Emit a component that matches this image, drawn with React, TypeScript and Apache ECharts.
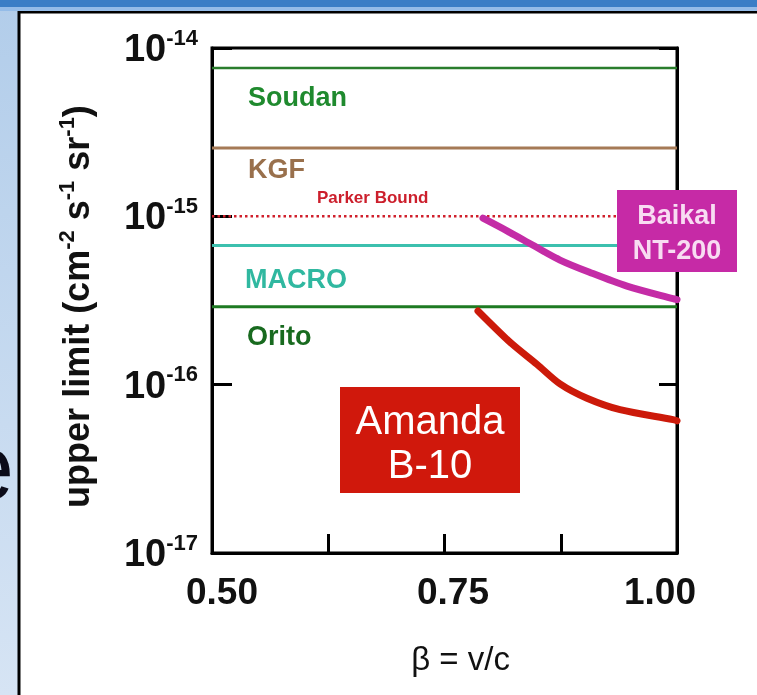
import React, { useEffect, useRef } from 'react';
import * as echarts from 'echarts';

const FONT = '"Liberation Sans", Arial, Helvetica, sans-serif';

// Horizontal flux limits (cm^-2 s^-1 sr^-1)
const limitNames = ['Soudan', 'KGF', 'Parker Bound', 'MACRO', 'Orito'];
const limitValues = [7.6e-15, 2.55e-15, 1e-15, 6.7e-16, 2.9e-16];
const limitColors = ['#2a7d2c', '#a57a56', '#d0202c', '#3cc0ae', '#1d7a22'];
const limitTextColors = ['#1f8a2e', '#99704c', '#cc1f2c', '#30b8a0', '#186a1f'];

// Baikal NT-200 curve
const baikalBeta = [0.7914, 0.8172, 0.8452, 0.8742, 0.9065, 0.9462, 0.9957, 1.0];
const baikalFlux = [9.75e-16, 8.2e-16, 6.73e-16, 5.5e-16, 4.64e-16, 3.85e-16, 3.24e-16, 3.2e-16];

// AMANDA B-10 curve
const amandaBeta = [0.786, 0.8204, 0.8495, 0.8742, 0.9032, 0.9387, 0.9957, 1.0];
const amandaFlux = [2.74e-16, 1.79e-16, 1.32e-16, 1.01e-16, 8.3e-17, 7.1e-17, 6.2e-17, 6.1e-17];

const xTickLabels = ['0.50', '0.75', '1.00'];
const xTickValues = [0.5, 0.75, 1.0];

export default function App() {
  const ref = useRef<HTMLDivElement>(null);

  useEffect(() => {
    if (!ref.current) return;
    const chart = echarts.init(ref.current, undefined, { renderer: 'svg' });

    const labelOffsets: [number, number][] = [
      [36, 29],
      [36, 21],
      [105, -18.5],
      [33, 33],
      [35, 29],
    ];

    const limitSeries = limitValues.map((v, i) => ({
      type: 'line',
      name: limitNames[i],
      data: [
        [0.5, v],
        [1.0, v],
      ],
      symbol: 'none',
      z: 2,
      lineStyle: {
        color: limitColors[i],
        width: i === 0 ? 2.5 : i === 2 ? 2.5 : 3,
        type: i === 2 ? [2.5, 3] : 'solid',
      },
    }));

    const labelSeries = {
      type: 'scatter',
      symbolSize: 0,
      clip: false,
      silent: true,
      z: 5,
      itemStyle: { opacity: 1 },
      emphasis: { disabled: true },
      data: limitValues.map((v, i) => ({
        value: [0.5, v],
        label: {
          show: true,
          position: 'right',
          distance: 0,
          offset: labelOffsets[i],
          formatter: limitNames[i],
          color: limitTextColors[i],
          opacity: 1,
          fontFamily: FONT,
          fontWeight: 'bold',
          fontSize: i === 2 ? 17 : 27,
        },
      })),
    };

    const xLabelKeys = ['a', 'b', 'c'];

    chart.setOption({
      animation: false,
      backgroundColor: 'transparent',
      grid: {
        left: 212,
        right: 80,
        top: 48,
        bottom: 142,
        show: true,
        borderColor: '#000',
        borderWidth: 3,
        backgroundColor: 'transparent',
      },
      xAxis: {
        type: 'value',
        min: 0.5,
        max: 1.0,
        interval: 0.125,
        axisLine: { show: true, lineStyle: { color: '#000', width: 3 } },
        axisTick: { show: true, inside: true, length: 19, lineStyle: { color: '#000', width: 3 } },
        splitLine: { show: false },
        axisLabel: {
          showMinLabel: true,
          showMaxLabel: true,
          margin: 20,
          formatter: (v: number) => {
            for (let i = 0; i < xTickValues.length; i++) {
              if (Math.abs(v - xTickValues[i]) < 1e-6) return `{${xLabelKeys[i]}|${xTickLabels[i]}}`;
            }
            return '';
          },
          rich: {
            a: { fontSize: 37, fontWeight: 'bold', fontFamily: FONT, color: '#111', padding: [0, 0, 0, 20] },
            b: { fontSize: 37, fontWeight: 'bold', fontFamily: FONT, color: '#111', padding: [0, 0, 0, 17] },
            c: { fontSize: 37, fontWeight: 'bold', fontFamily: FONT, color: '#111', padding: [0, 34, 0, 0] },
          },
        },
        name: 'β = v/c',
        nameLocation: 'middle',
        nameGap: 89,
        nameTextStyle: {
          fontSize: 33,
          fontFamily: FONT,
          color: '#111',
          padding: [0, 0, 0, 32],
        },
      },
      yAxis: [
        {
          type: 'log',
          logBase: 10,
          min: 1e-17,
          max: 1e-14,
          position: 'left',
          axisLine: { show: true, lineStyle: { color: '#000', width: 3 } },
          axisTick: { show: true, inside: true, length: 20, lineStyle: { color: '#000', width: 3 } },
          minorTick: { show: false },
          splitLine: { show: false },
          axisLabel: {
            margin: 14,
            formatter: (v: number) => `{b|10}{s|${Math.round(Math.log10(v))}}`,
            rich: {
              b: { fontSize: 38, fontWeight: 'bold', fontFamily: FONT, color: '#111', lineHeight: 44 },
              s: { fontSize: 22, fontWeight: 'bold', fontFamily: FONT, color: '#111', verticalAlign: 'top', lineHeight: 22 },
            },
          },
          name: 'upper limit (cm{s|-2} s{s|-1} sr{s|-1})',
          nameLocation: 'middle',
          nameRotate: 90,
          nameGap: 115,
          nameTextStyle: {
            fontSize: 36,
            fontWeight: 'bold',
            fontFamily: FONT,
            color: '#111',
            lineHeight: 42,
            padding: [0, 12, 0, 0],
            rich: {
              s: { fontSize: 22, fontWeight: 'bold', fontFamily: FONT, color: '#111', verticalAlign: 'top', lineHeight: 22 },
            },
          },
        },
        {
          type: 'log',
          logBase: 10,
          min: 1e-17,
          max: 1e-14,
          position: 'right',
          axisLine: { show: true, lineStyle: { color: '#000', width: 3 } },
          axisTick: { show: true, inside: true, length: 18, lineStyle: { color: '#000', width: 3 } },
          minorTick: { show: false },
          splitLine: { show: false },
          axisLabel: { show: false },
        },
      ],
      series: [
        ...limitSeries,
        {
          type: 'line',
          name: 'Baikal NT-200',
          data: baikalBeta.map((b, i) => [b, baikalFlux[i]]),
          smooth: 0.3,
          symbol: 'none',
          z: 3,
          lineStyle: { color: '#c42ca6', width: 7, cap: 'round' },
        },
        {
          type: 'line',
          name: 'AMANDA B-10',
          data: amandaBeta.map((b, i) => [b, amandaFlux[i]]),
          smooth: 0.3,
          symbol: 'none',
          z: 3,
          lineStyle: { color: '#cc1a0a', width: 7, cap: 'round' },
        },
        labelSeries,
      ],
      graphic: [
        {
          type: 'rect',
          z: -10,
          silent: true,
          shape: { x: 0, y: 0, width: 757, height: 695 },
          style: {
            fill: new echarts.graphic.LinearGradient(0, 0, 0, 1, [
              { offset: 0, color: '#b2cdea' },
              { offset: 1, color: '#d6e4f4' },
            ]),
          },
        },
        {
          type: 'text',
          z: -9,
          silent: true,
          x: 14,
          y: 467,
          style: {
            text: 'e',
            fontSize: 92,
            fontFamily: FONT,
            fill: '#0b0b18',
            align: 'right',
            verticalAlign: 'middle',
            textAlign: 'right',
            textVerticalAlign: 'middle',
          },
        },
        {
          type: 'rect',
          z: -8,
          silent: true,
          shape: { x: 19, y: 12, width: 745, height: 700 },
          style: { fill: '#ffffff', stroke: '#000', lineWidth: 3 },
        },
        {
          type: 'rect',
          z: -7,
          silent: true,
          shape: { x: 0, y: 0, width: 757, height: 7 },
          style: { fill: '#3a7ec6' },
        },
        {
          type: 'rect',
          z: -7,
          silent: true,
          shape: { x: 0, y: 7, width: 757, height: 4 },
          style: { fill: '#94bce8' },
        },
        {
          type: 'rect',
          z: 100,
          silent: true,
          shape: { x: 617, y: 190, width: 120, height: 82 },
          style: { fill: '#c62aa6' },
        },
        {
          type: 'text',
          z: 101,
          silent: true,
          x: 677,
          y: 232,
          style: {
            text: 'Baikal\nNT-200',
            fontSize: 27,
            fontWeight: 'bold',
            fontFamily: FONT,
            lineHeight: 35,
            fill: '#f8dcf2',
            align: 'center',
            verticalAlign: 'middle',
            textAlign: 'center',
            textVerticalAlign: 'middle',
          },
        },
        {
          type: 'rect',
          z: 100,
          silent: true,
          shape: { x: 340, y: 387, width: 180, height: 106 },
          style: { fill: '#d0180c' },
        },
        {
          type: 'text',
          z: 101,
          silent: true,
          x: 430,
          y: 442,
          style: {
            text: 'Amanda\nB-10',
            fontSize: 40,
            fontFamily: FONT,
            lineHeight: 44,
            fill: '#ffffff',
            align: 'center',
            verticalAlign: 'middle',
            textAlign: 'center',
            textVerticalAlign: 'middle',
          },
        },
      ],
    });

    return () => {
      chart.dispose();
    };
  }, []);

  return (
    <div
      ref={ref}
      style={{ position: 'fixed', left: 0, top: 0, width: 757, height: 695 }}
    />
  );
}
